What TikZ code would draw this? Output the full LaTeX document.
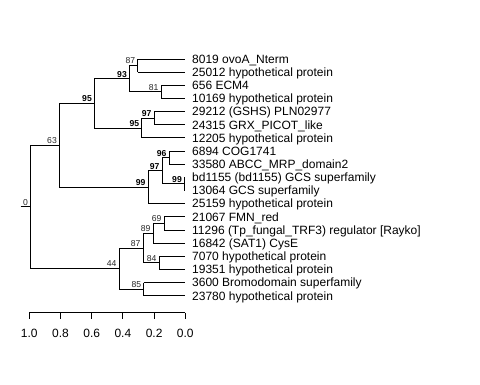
\documentclass[tikz,border=0pt]{standalone}
\usepackage{fontspec}
\setmainfont{Liberation Sans}
\tikzset{
  edge/.style={draw=black, line width=0.9bp},
  leaf/.style={anchor=west, inner xsep=7bp, inner ysep=0pt, font=\fontsize{12bp}{14bp}\selectfont, text height=8.6bp, text depth=0pt},
  bs/.style={anchor=south east, inner sep=0pt, font=\fontsize{8.6bp}{10bp}\selectfont, text depth=0pt, xshift=-2.3bp, yshift=1.4bp, text=black!85},
  bsb/.style={bs, font=\fontsize{8.6bp}{10bp}\selectfont\bfseries, text=black},
  ticklab/.style={anchor=center, inner sep=0pt, font=\fontsize{12bp}{14bp}\selectfont}
}
\begin{document}
\begin{tikzpicture}[x=1bp, y=-1bp]
\useasboundingbox (0,0) rectangle (480,384);
% leaves
\node[leaf] (l1)  at (185,59)     {8019 ovoA\_Nterm};
\node[leaf] (l2)  at (185,72.15)  {25012 hypothetical protein};
\node[leaf] (l3)  at (185,85.3)   {656 ECM4};
\node[leaf] (l4)  at (185,98.45)  {10169 hypothetical protein};
\node[leaf] (l5)  at (185,111.6)  {29212 (GSHS) PLN02977};
\node[leaf] (l6)  at (185,124.75) {24315 GRX\_PICOT\_like};
\node[leaf] (l7)  at (185,137.9)  {12205 hypothetical protein};
\node[leaf] (l8)  at (185,151.05) {6894 COG1741};
\node[leaf] (l9)  at (185,164.2)  {33580 ABCC\_MRP\_domain2};
\node[leaf] (l10) at (185,177.35) {bd1155 (bd1155) GCS superfamily};
\node[leaf] (l11) at (185,190.5)  {13064 GCS superfamily};
\node[leaf] (l12) at (185,203.65) {25159 hypothetical protein};
\node[leaf] (l13) at (185,216.8)  {21067 FMN\_red};
\node[leaf] (l14) at (185,229.95) {11296 (Tp\_fungal\_TRF3) regulator [Rayko]};
\node[leaf] (l15) at (185,243.1)  {16842 (SAT1) CysE};
\node[leaf] (l16) at (185,256.25) {7070 hypothetical protein};
\node[leaf] (l17) at (185,269.4)  {19351 hypothetical protein};
\node[leaf] (l18) at (185,282.55) {3600 Bromodomain superfamily};
\node[leaf] (l19) at (185,295.7)  {23780 hypothetical protein};
% internal nodes
\coordinate (n87a) at (137.7,65.575);
\coordinate (n81)  at (161,91.875);
\coordinate (n93)  at (129.3,78.725);
\coordinate (n97a) at (154,118.175);
\coordinate (n95b) at (141.7,128.04);
\coordinate (n95a) at (94.3,103.38);
\coordinate (n96)  at (169,157.625);
\coordinate (n99c) at (184.3,183.925);
\coordinate (n97b) at (162,170.775);
\coordinate (n99b) at (148,187.21);
\coordinate (n63)  at (59.3,145.3);
\coordinate (n69)  at (164,223.375);
\coordinate (n89)  at (153,233.24);
\coordinate (n84)  at (159,262.825);
\coordinate (n87b) at (143,248.03);
\coordinate (n85)  at (143.7,289.125);
\coordinate (n44)  at (119,268.58);
\coordinate (root) at (30.3,206.94);
\coordinate (rootstub) at (20.7,206.94);
% edges: vertical spans and horizontal branches
\draw[edge] (n87a |- l1.west) -- (n87a |- l2.west);
\draw[edge] (n87a |- l1.west) -- (l1.west);
\draw[edge] (n87a |- l2.west) -- (l2.west);
\draw[edge] (n81 |- l3.west) -- (n81 |- l4.west);
\draw[edge] (n81 |- l3.west) -- (l3.west);
\draw[edge] (n81 |- l4.west) -- (l4.west);
\draw[edge] (n93 |- n87a) -- (n93 |- n81);
\draw[edge] (n93 |- n87a) -- (n87a);
\draw[edge] (n93 |- n81) -- (n81);
\draw[edge] (n97a |- l5.west) -- (n97a |- l6.west);
\draw[edge] (n97a |- l5.west) -- (l5.west);
\draw[edge] (n97a |- l6.west) -- (l6.west);
\draw[edge] (n95b |- n97a) -- (n95b |- l7.west);
\draw[edge] (n95b |- n97a) -- (n97a);
\draw[edge] (n95b |- l7.west) -- (l7.west);
\draw[edge] (n95a |- n93) -- (n95a |- n95b);
\draw[edge] (n95a |- n93) -- (n93);
\draw[edge] (n95a |- n95b) -- (n95b);
\draw[edge] (n96 |- l8.west) -- (n96 |- l9.west);
\draw[edge] (n96 |- l8.west) -- (l8.west);
\draw[edge] (n96 |- l9.west) -- (l9.west);
\draw[edge] (n99c |- l10.west) -- (n99c |- l11.west);
\draw[edge] (n99c |- l10.west) -- (l10.west);
\draw[edge] (n99c |- l11.west) -- (l11.west);
\draw[edge] (n97b |- n96) -- (n97b |- n99c);
\draw[edge] (n97b |- n96) -- (n96);
\draw[edge] (n97b |- n99c) -- (n99c);
\draw[edge] (n99b |- n97b) -- (n99b |- l12.west);
\draw[edge] (n99b |- n97b) -- (n97b);
\draw[edge] (n99b |- l12.west) -- (l12.west);
\draw[edge] (n63 |- n95a) -- (n63 |- n99b);
\draw[edge] (n63 |- n95a) -- (n95a);
\draw[edge] (n63 |- n99b) -- (n99b);
\draw[edge] (n69 |- l13.west) -- (n69 |- l14.west);
\draw[edge] (n69 |- l13.west) -- (l13.west);
\draw[edge] (n69 |- l14.west) -- (l14.west);
\draw[edge] (n89 |- n69) -- (n89 |- l15.west);
\draw[edge] (n89 |- n69) -- (n69);
\draw[edge] (n89 |- l15.west) -- (l15.west);
\draw[edge] (n84 |- l16.west) -- (n84 |- l17.west);
\draw[edge] (n84 |- l16.west) -- (l16.west);
\draw[edge] (n84 |- l17.west) -- (l17.west);
\draw[edge] (n87b |- n89) -- (n87b |- n84);
\draw[edge] (n87b |- n89) -- (n89);
\draw[edge] (n87b |- n84) -- (n84);
\draw[edge] (n85 |- l18.west) -- (n85 |- l19.west);
\draw[edge] (n85 |- l18.west) -- (l18.west);
\draw[edge] (n85 |- l19.west) -- (l19.west);
\draw[edge] (n44 |- n87b) -- (n44 |- n85);
\draw[edge] (n44 |- n87b) -- (n87b);
\draw[edge] (n44 |- n85) -- (n85);
\draw[edge] (root |- n63) -- (root |- n44);
\draw[edge] (root |- n63) -- (n63);
\draw[edge] (root |- n44) -- (n44);
\draw[edge] (rootstub) -- (root);
% support labels
\node[bs]  (b87a) at (n87a) {87};
\node[bs]  (b81)  at (n81)  {81};
\node[bsb] (b93)  at (n93)  {93};
\node[bsb] (b97a) at (n97a) {97};
\node[bsb] (b95b) at (n95b) {95};
\node[bsb] (b95a) at (n95a) {95};
\node[bsb] (b96)  at (n96)  {96};
\node[bsb] (b99c) at (n99c) {99};
\node[bsb] (b97b) at (n97b) {97};
\node[bsb] (b99b) at (n99b) {99};
\node[bs]  (b63)  at (n63)  {63};
\node[bs]  (b69)  at (n69)  {69};
\node[bs]  (b89)  at (n89)  {89};
\node[bs]  (b84)  at (n84)  {84};
\node[bs]  (b87b) at (n87b) {87};
\node[bs]  (b85)  at (n85)  {85};
\node[bs]  (b44)  at (n44)  {44};
\node[bs]  (b0)   at (root) {0};
% scale axis
\coordinate (ax0) at (29.3,312.7);
\coordinate (ax1) at (185.3,312.7);
\draw[edge] (ax0) -- (ax1);
\foreach \i/\lab in {0/1.0,1/0.8,2/0.6,3/0.4,4/0.2,5/0.0}{
  \draw[edge] (29.3+31.2*\i,312.7) -- (29.3+31.2*\i,319);
  \node[ticklab] (tick\i) at (29.3+31.2*\i,333.3) {\lab};
}
\end{tikzpicture}
\end{document}
